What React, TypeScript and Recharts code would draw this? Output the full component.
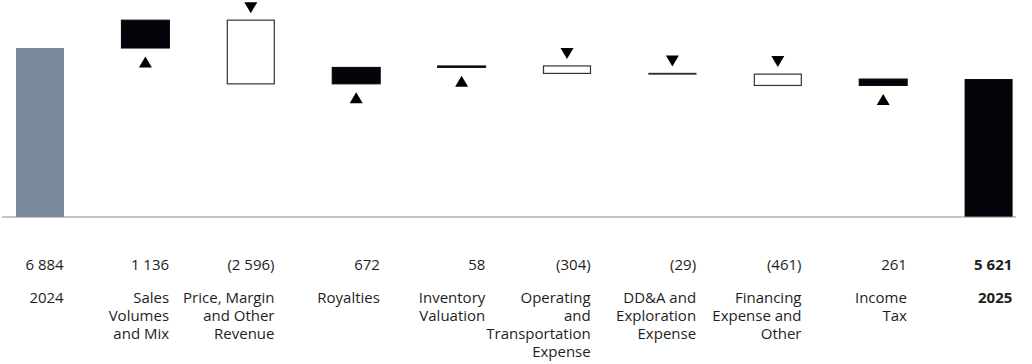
import { BarChart, Bar, XAxis, YAxis, Cell, ReferenceLine } from 'recharts';

const categories = [
  '2024',
  'Sales\nVolumes\nand Mix',
  'Price, Margin\nand Other\nRevenue',
  'Royalties',
  'Inventory\nValuation',
  'Operating\nand\nTransportation\nExpense',
  'DD&A and\nExploration\nExpense',
  'Financing\nExpense and\nOther',
  'Income\nTax',
  '2025',
];
const amounts = [6884, 1136, -2596, 672, 58, -304, -29, -461, 261, 5621];
const kinds = ['start', 'step', 'step', 'step', 'step', 'step', 'step', 'step', 'step', 'end'];

const FONT = '"Open Sans", "Noto Sans", sans-serif';
const TEXT = '#1e1e1e';

// running total -> invisible base + visible piece
let running = 0;
const rows = categories.map((name, i) => {
  const v = amounts[i];
  const kind = kinds[i];
  let base = 0;
  let size = v;
  if (kind === 'start') {
    running = v;
  } else if (kind === 'end') {
    size = v;
  } else {
    base = v >= 0 ? running : running + v;
    size = Math.abs(v);
    running += v;
  }
  return { name, base, size, amount: v, kind };
});

const fmt = (v: number) => {
  const s = Math.abs(v).toString().replace(/\B(?=(\d{3})+(?!\d))/g, ' ');
  return v < 0 ? `(${s})` : s;
};

function StepShape(props: any) {
  const { x, y, width, height, payload } = props;
  const cx = x + width / 2;
  if (payload.kind === 'start') {
    return <rect x={x} y={y} width={width} height={height} fill="#788a9c" />;
  }
  if (payload.kind === 'end') {
    return <rect x={x} y={y} width={width} height={height} fill="#03050a" />;
  }
  if (payload.amount >= 0) {
    const b = y + height;
    return (
      <g>
        <rect x={x} y={y} width={width} height={height} fill="#03050a" stroke="#03050a" strokeWidth={1} />
        <path d={`M${cx},${b + 8.5} L${cx + 6.5},${b + 19.5} L${cx - 6.5},${b + 19.5} Z`} fill="#000" />
      </g>
    );
  }
  return (
    <g>
      <rect x={x + 0.5} y={y} width={width - 1} height={height} fill="#fff" stroke="#333" strokeWidth={1.2} />
      <path d={`M${cx - 6.5},${y - 18} L${cx + 6.5},${y - 18} L${cx},${y - 7} Z`} fill="#000" />
    </g>
  );
}

function CategoryTick(props: any) {
  const { x, y, index } = props;
  const row = rows[index];
  if (!row) return null;
  const right = x + 24;
  const bold = row.kind === 'end';
  const lines = row.name.split('\n');
  return (
    <g fontFamily={FONT} fontSize={15} fill={TEXT} fontWeight={bold ? 700 : 400}>
      <text x={right} y={y + 53} textAnchor="end">
        {fmt(row.amount)}
      </text>
      {lines.map((ln: string, k: number) => (
        <text key={k} x={right} y={y + 86 + k * 18} textAnchor="end">
          {ln}
        </text>
      ))}
    </g>
  );
}

export default function App() {
  return (
    <div
      style={{
        position: 'fixed',
        left: 0,
        top: 0,
        width: 1032,
        height: 364,
        overflow: 'hidden',
        background: '#fff',
      }}
    >
      <div style={{ position: 'absolute', left: -13, top: 0 }}>
        <BarChart
          width={1054}
          height={364}
          data={rows}
          margin={{ top: 1, right: 0, bottom: 0, left: 0 }}
          barSize={48}
        >
          <XAxis
            dataKey="name"
            axisLine={false}
            tickLine={false}
            tickSize={0}
            tickMargin={0}
            height={147}
            interval={0}
            tick={<CategoryTick />}
          />
          <YAxis hide domain={[0, 8800]} />
          <Bar dataKey="base" stackId="w" fill="transparent" isAnimationActive={false} />
          <Bar dataKey="size" stackId="w" shape={<StepShape />} isAnimationActive={false}>
            {rows.map((r) => (
              <Cell key={r.name} />
            ))}
          </Bar>
          <ReferenceLine
            y={0}
            shape={(p: any) => (
              <line x1={p.x1 + 15} x2={p.x2 - 25} y1={p.y1} y2={p.y2} stroke="#8a8a8a" strokeWidth={1} />
            )}
          />
        </BarChart>
      </div>
    </div>
  );
}
